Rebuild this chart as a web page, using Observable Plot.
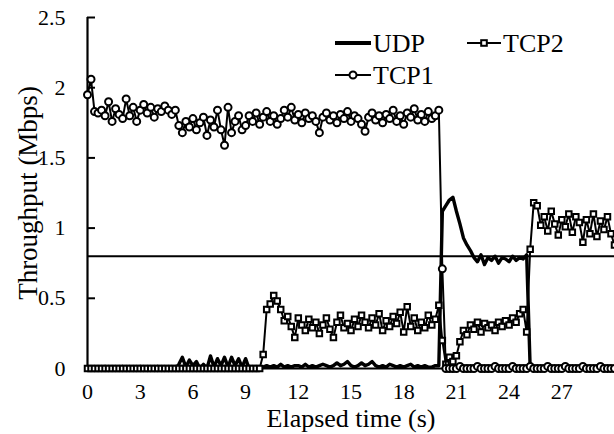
<!DOCTYPE html>
<html>
<head>
<meta charset="utf-8">
<script src="https://cdn.jsdelivr.net/npm/d3@7"></script>
<script src="https://cdn.jsdelivr.net/npm/@observablehq/plot@0.6"></script>
<style>
  html, body { margin: 0; padding: 0; background: #fff; }
  #chart { position: relative; width: 614px; height: 434px; }
  #chart svg { display: block; }
  #legend { position: absolute; left: 0; top: 0; pointer-events: none; }
</style>
</head>
<body>
<div id="chart"></div>
<script>
// Sampling interval of the throughput measurements (s)
const SAMPLE_INTERVAL = 0.2;

// Series values (Mbps), one value per sample
const udp = [
  0,0,0,0,0,0.015,0,0,0,0,
  0.015,0,0,0,0,0.015,0,0,0,0,
  0.015,0,0,0,0,0,0.03,0.08,0.01,0.06,
  0.02,0.05,0,0.03,0,0.09,0.01,0.07,0.02,0.08,
  0.01,0.08,0.02,0.07,0.01,0.07,0,0.01,0,0,
  0.01,0.02,0.01,0.02,0.01,0.03,0.01,0.02,0.01,0.02,
  0.02,0.01,0.03,0.01,0.02,0.01,0.02,0.03,0.02,0.01,
  0.02,0.04,0.02,0.03,0.05,0.02,0.01,0.02,0.04,0.02,
  0.03,0.05,0.02,0.01,0.02,0.01,0.03,0.02,0.01,0.02,
  0.01,0.02,0.03,0.01,0.02,0.01,0.02,0.01,0.01,0.02,
  0.02,1.12,1.16,1.20,1.22,1.12,1.03,0.93,0.88,0.84,
  0.79,0.76,0.81,0.74,0.79,0.77,0.80,0.75,0.79,0.78,
  0.76,0.80,0.77,0.79,0.78,0.81,0,0,0,0,
  0,0,0,0,0,0,0,0,0,0,
  0,0,0,0,0,0,0,0,0,0,
  0
];
const tcp1 = [
  1.95,2.06,1.83,1.82,1.84,1.80,1.90,1.76,1.85,1.81,
  1.78,1.92,1.80,1.86,1.76,1.84,1.88,1.82,1.86,1.79,
  1.85,1.83,1.87,1.84,1.81,1.84,1.73,1.68,1.76,1.72,
  1.78,1.70,1.75,1.79,1.66,1.77,1.72,1.84,1.70,1.59,
  1.86,1.68,1.76,1.80,1.70,1.73,1.80,1.76,1.82,1.74,
  1.79,1.83,1.76,1.80,1.74,1.78,1.84,1.79,1.86,1.77,
  1.81,1.75,1.82,1.78,1.80,1.76,1.68,1.79,1.82,1.77,
  1.80,1.75,1.81,1.78,1.83,1.76,1.80,1.78,1.74,1.69,
  1.79,1.82,1.77,1.80,1.75,1.81,1.78,1.84,1.76,1.80,
  1.74,1.82,1.79,1.85,1.77,1.81,1.76,1.83,1.78,1.80,
  1.84,0.71,0,0,0,0,0.015,0,0,0,
  0,0.015,0,0,0,0,0.015,0,0,0,
  0,0.015,0,0,0,0,0.015,0,0,0,
  0,0.015,0,0,0,0,0.015,0,0,0,
  0,0.015,0,0,0,0,0.015,0,0,0,
  0
];
const tcp2 = [
  0,0,0,0,0,0,0,0,0,0,
  0,0,0,0,0,0,0,0,0,0,
  0,0,0,0,0,0,0,0,0,0,
  0,0,0,0,0,0,0,0,0,0,
  0,0,0,0,0,0,0,0,0,0,
  0.10,0.42,0.46,0.52,0.48,0.42,0.34,0.37,0.30,0.22,
  0.36,0.31,0.27,0.35,0.29,0.33,0.25,0.31,0.36,0.28,
  0.22,0.33,0.38,0.29,0.32,0.27,0.35,0.30,0.38,0.33,
  0.29,0.36,0.31,0.39,0.27,0.34,0.30,0.37,0.32,0.40,
  0.26,0.44,0.30,0.36,0.27,0.33,0.29,0.38,0.31,0.35,
  0.45,0.20,0.03,0.08,0.05,0.09,0.19,0.27,0.24,0.31,
  0.28,0.33,0.26,0.32,0.29,0.31,0.27,0.33,0.30,0.34,
  0.31,0.36,0.33,0.39,0.42,0.26,0.85,1.18,1.16,1.02,
  1.08,0.98,1.12,1.03,0.95,1.06,1.01,1.10,0.97,1.08,
  1.04,0.90,1.06,0.96,1.10,0.94,1.05,0.99,1.08,0.96,
  0.88
];

// Reference throughput level (Mbps)
const referenceLevel = [0.8];

// Axis ticks and labels
const xTicks = [0, 3, 6, 9, 12, 15, 18, 21, 24, 27];
const yTicks = [0, 0.5, 1, 1.5, 2, 2.5];
const xDomain = [0, 30];
const yDomain = [0, 2.5];
const xTitle = "Elapsed time (s)";
const yTitle = "Throughput (Mbps)";
const seriesNames = ["UDP", "TCP1", "TCP2"];

const toRows = (arr) => arr.map((v, i) => ({t: i * SAMPLE_INTERVAL, v}));
const udpRows = toRows(udp);
const tcp1Rows = toRows(tcp1);
const tcp2Rows = toRows(tcp2);

const FONT = "'Liberation Serif', 'Times New Roman', Times, serif";
const W = 614, H = 434, ML = 87, MR = 0, MT = 17, MB = 66;
const TICK_LEN = 8;

const chart = Plot.plot({
  width: W,
  height: H,
  marginLeft: ML,
  marginRight: MR,
  marginTop: MT,
  marginBottom: MB,
  style: {fontFamily: FONT, fontSize: "22px", color: "black", background: "white", overflow: "visible"},
  x: {domain: xDomain},
  y: {domain: yDomain},
  marks: [
    Plot.ruleX([0], {stroke: "black", strokeWidth: 2.2}),
    Plot.ruleY([0], {stroke: "black", strokeWidth: 2.2}),
    // inward tick marks on the y axis
    Plot.ruleY(yTicks, {stroke: "black", strokeWidth: 2, insetRight: W - ML - MR - TICK_LEN}),
    Plot.ruleY(referenceLevel, {stroke: "black", strokeWidth: 2}),
    Plot.line(udpRows, {x: "t", y: "v", stroke: "black", strokeWidth: 3.4, strokeLinejoin: "round"}),
    Plot.line(tcp2Rows, {x: "t", y: "v", stroke: "black", strokeWidth: 2}),
    Plot.dot(tcp2Rows, {x: "t", y: "v", symbol: "square", r: 3.1, fill: "white", stroke: "black", strokeWidth: 2}),
    Plot.line(tcp1Rows, {x: "t", y: "v", stroke: "black", strokeWidth: 2}),
    Plot.dot(tcp1Rows, {x: "t", y: "v", r: 3.5, fill: "white", stroke: "black", strokeWidth: 2}),
    Plot.axisY(yTicks, {tickSize: 0, tickPadding: 22, tickFormat: d => String(d), fontSize: 22, label: null}),
    Plot.axisX(xTicks, {tickSize: 0, tickPadding: 15, tickFormat: d => String(d), fontSize: 22, label: null}),
    Plot.text([xTitle], {frameAnchor: "bottom", dy: 50, fontSize: 26, textAnchor: "middle", lineAnchor: "middle", fill: "black"}),
    Plot.text([yTitle], {frameAnchor: "left", dx: -59, rotate: -90, fontSize: 27, textAnchor: "middle", lineAnchor: "middle", fill: "black"})
  ]
});

const container = document.getElementById("chart");
container.appendChild(chart);

// Legend overlay
const legend = d3.select(container).append("svg")
  .attr("id", "legend")
  .attr("width", W).attr("height", H)
  .style("font-family", FONT);

const items = [
  {name: seriesNames[0], x: 335, y: 43, len: 36, marker: null, width: 3.8},
  {name: seriesNames[1], x: 335, y: 75, len: 36, marker: "circle", width: 2},
  {name: seriesNames[2], x: 467, y: 43, len: 34, marker: "square", width: 2}
];
for (const it of items) {
  const g = legend.append("g");
  g.append("line").attr("x1", it.x).attr("x2", it.x + it.len)
    .attr("y1", it.y).attr("y2", it.y)
    .attr("stroke", "black").attr("stroke-width", it.width);
  const cx = it.x + it.len / 2;
  if (it.marker === "circle") {
    g.append("circle").attr("cx", cx).attr("cy", it.y).attr("r", 3.5)
      .attr("fill", "white").attr("stroke", "black").attr("stroke-width", 2);
  } else if (it.marker === "square") {
    g.append("rect").attr("x", cx - 2.8).attr("y", it.y - 2.8).attr("width", 5.6).attr("height", 5.6)
      .attr("fill", "white").attr("stroke", "black").attr("stroke-width", 2);
  }
  g.append("text").attr("x", it.x + it.len + 2).attr("y", it.y).attr("dy", "0.35em")
    .attr("font-size", 26).attr("fill", "black").text(it.name);
}
</script>
</body>
</html>
